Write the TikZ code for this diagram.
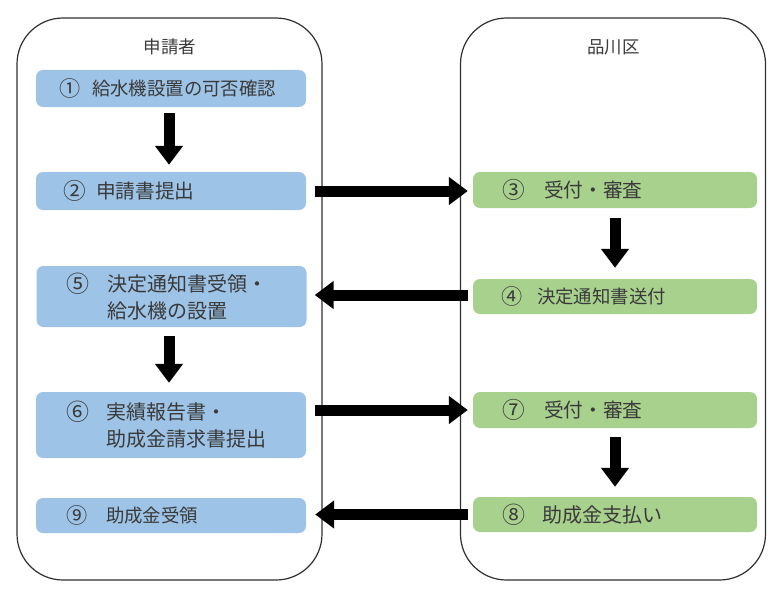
\documentclass[tikz,border=0pt]{standalone}
\usepackage{fontspec}
\usepackage{graphicx}
\setmainfont{Noto Sans CJK JP}
\usetikzlibrary{arrows.meta}
\definecolor{boxblue}{HTML}{9DC3E6}
\definecolor{boxgreen}{HTML}{A9D18E}
\definecolor{txt}{HTML}{3A3A3A}
\definecolor{frame}{HTML}{303030}
\newcommand{\nb}[2]{\makebox[#1pt][l]{\raisebox{-1pt}{\scalebox{1.15}{#2}}}}
\tikzset{
  panel/.style={draw=frame, line width=1.2pt, rounded corners=46pt, minimum width=305pt, minimum height=562pt, inner sep=0pt},
  title/.style={text=txt, font=\fontsize{17.5pt}{20pt}\selectfont, inner sep=0pt},
  bbox/.style={fill=boxblue, rounded corners=7pt, minimum width=270pt, inner sep=0pt},
  gbox/.style={fill=boxgreen, rounded corners=7pt, minimum width=284pt, inner sep=0pt},
  label/.style={text=txt, anchor=west, inner sep=0pt, align=left},
  fs/.style={font=\fontsize{#1pt}{27pt}\selectfont},
  bigarrow/.style={line width=11pt, -{Triangle[width=27pt,length=19pt]}, line cap=butt}
}
\begin{document}
\begin{tikzpicture}[x=1pt,y=-1pt]
\useasboundingbox (0,0) rectangle (783,599);
% panels
\node[panel] (pl) at (169.5,299) {};
\node[panel] (pr) at (613,299) {};
\node[title] (tl) at (170,47) {申請者};
\node[title] (tr) at (613.5,47) {品川区};
% left boxes
\node[bbox, minimum height=37pt] (b1) at (171,88.5) {};
\node[bbox, minimum height=38pt] (b2) at (171,191) {};
\node[bbox, minimum height=61pt] (b5) at (171.5,296.5) {};
\node[bbox, minimum height=66pt] (b6) at (171,425) {};
\node[bbox, minimum height=35pt] (b9) at (171,515.5) {};
% right boxes
\node[gbox, minimum height=36pt] (b3) at (615,190) {};
\node[gbox, minimum height=35pt] (b4) at (615,296.5) {};
\node[gbox, minimum height=36pt] (b7) at (615,410) {};
\node[gbox, minimum height=35pt] (b8) at (615,514.5) {};
% texts
\node[label, fs=18.4] (l1) at ([xshift=23pt]b1.west) {\nb{33}{①}給水機設置の可否確認};
\node[label, fs=19.7] (l2) at ([xshift=27pt]b2.west) {\nb{33}{②}申請書提出};
\node[label, fs=20] (l5) at ([xshift=30pt]b5.west) {\nb{41}{⑤}決定通知書受領・\\\nb{41}{}給水機の設置};
\node[label, fs=20] (l6) at ([xshift=30pt]b6.west) {\nb{40}{⑥}実績報告書・\\\nb{40}{}助成金請求書提出};
\node[label, fs=18.4] (l9) at ([xshift=30pt]b9.west) {\nb{40}{⑨}助成金受領};
\node[label, fs=19.7] (l3) at ([xshift=29pt]b3.west) {\nb{42}{③}受付・審査};
\node[label, fs=18.4] (l4) at ([xshift=28pt]b4.west) {\nb{36}{④}決定通知書送付};
\node[label, fs=19.7] (l7) at ([xshift=29pt]b7.west) {\nb{42}{⑦}受付・審査};
\node[label, fs=20] (l8) at ([xshift=29pt]b8.west) {\nb{40}{⑧}助成金支払い};
% vertical arrows
\draw[bigarrow, shorten <=6pt, shorten >=7pt] ([xshift=-2pt]b1.south) -- ([xshift=-2pt]b2.north);
\draw[bigarrow, shorten <=9pt, shorten >=9pt] ([xshift=-2.5pt]b5.south) -- ([xshift=-2pt]b6.north);
\draw[bigarrow, shorten <=10pt, shorten >=11pt] (b3.south) -- (b4.north);
\draw[bigarrow, shorten <=9pt, shorten >=10pt] (b7.south) -- (b8.north);
% horizontal arrows
\draw[bigarrow, shorten <=9pt, shorten >=5pt] (b2.east) -- (b2.east -| b3.west);
\draw[bigarrow, shorten <=5pt, shorten >=8pt] ([yshift=1.5pt]b4.west) -- ([yshift=1.5pt]b4.west -| b5.east);
\draw[bigarrow, shorten <=9pt, shorten >=5pt] (b6.east |- b7.west) -- (b7.west);
\draw[bigarrow, shorten <=5pt, shorten >=9pt] (b8.west) -- (b8.west -| b9.east);
\end{tikzpicture}
\end{document}
